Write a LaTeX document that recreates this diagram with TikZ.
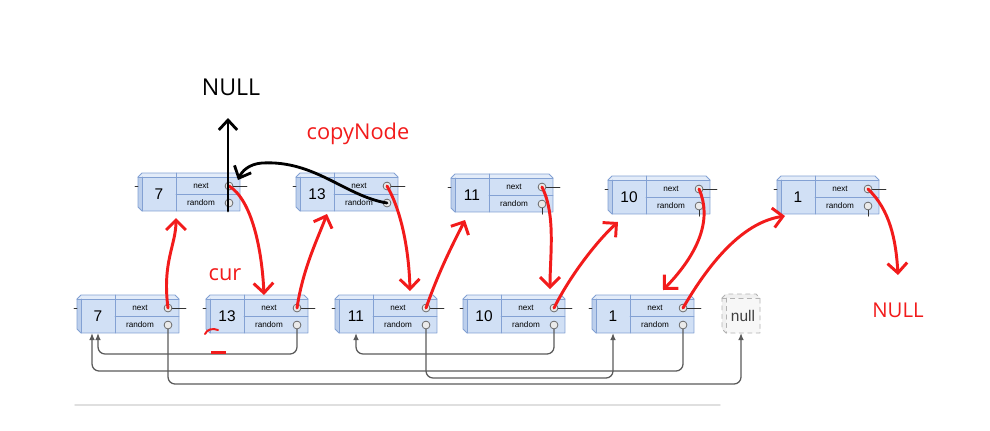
\documentclass[tikz,border=0pt]{standalone}
\usepackage{fontspec}
\setmainfont{Liberation Sans}
\newfontfamily\notefont{Open Sans}
\usetikzlibrary{arrows.meta}

\definecolor{boxfill}{HTML}{D1E0F5}
\definecolor{boxtop}{HTML}{E3ECF9}
\definecolor{boxside}{HTML}{BCCFEC}
\definecolor{boxline}{HTML}{83A1D3}
\definecolor{dotfill}{HTML}{EAEAEA}
\definecolor{randline}{HTML}{5A5A5A}
\definecolor{penred}{HTML}{F21B1B}

\tikzset{
  cell/.style={draw=boxline, line width=0.6pt},
  valtext/.style={font=\fontsize{11}{12}\selectfont, inner sep=0pt},
  fieldtext/.style={font=\fontsize{5.8}{6}\selectfont, inner sep=0pt},
  dot/.style={circle, draw=gray!75!black, fill=dotfill, line width=0.5pt, inner sep=0pt, minimum size=5.6pt},
  stub/.style={draw=black!80, line width=0.5pt},
  randarrow/.style={draw=randline, line width=0.9pt, rounded corners=5pt, -{Latex[length=5pt,width=4pt]}},
  redpen/.style={draw=penred, line width=2.1pt, -{Straight Barb[length=7pt,width=14pt]}},
  blackpen/.style={draw=black, line width=2pt, -{Straight Barb[length=7pt,width=13pt]}},
  redtext/.style={text=penred, font=\notefont\fontsize{15.5}{16}\selectfont}
}

\begin{document}
\begin{tikzpicture}[x=0.025cm, y=-0.025cm, line cap=round, line join=round]
\useasboundingbox (0,0) rectangle (990,430);

% ----------------- List nodes: name / left x / top y / value -----------------
\foreach \nm/\bx/\by/\val in {b7/77/295/7, b13/206/295/13, b11/335/295/11, b10/463/295/10, b1/592/295/1,
    t7/138/173/7, t13/296/173/13, t11/451/174/11, t10/608/176/10, t1/777/176/1}{
  \begin{scope}[shift={(\bx,\by)}]
    \fill[boxside] (0,4) -- (4,4) -- (4,38) -- (0,34) -- cycle;
    \fill[boxtop] (4,0) -- (98,0) -- (102,4) -- (0,4) -- cycle;
    \fill[boxfill] (4,4) rectangle (102,38);
    \draw[cell] (0,4) -- (4,0) -- (98,0) -- (102,4) -- (102,38) -- (4,38) -- (0,34) -- cycle;
    \draw[cell] (0,4) -- (102,4) (4,4) -- (4,38) (38,0) -- (38,38) (38,21) -- (102,21);
    \node[valtext] (\nm) at (21,21) {\val};
    \node[fieldtext] at (63,13) {next};
    \node[fieldtext] at (63,30) {random};
    \draw[stub] (91,13) -- (109,13);
    \draw[stub] (-3,13) -- (0,13);
    \node[dot] (\nm-n) at (91,13) {};
    \node[dot] (\nm-r) at (91,30) {};
    \coordinate (\nm-in) at (21,38);
    \coordinate (\nm-in2) at (15,38);
  \end{scope}
}

% copies keep a short random stub
\foreach \nm in {t11,t10,t1}
  \draw[stub] (\nm-r.south) -- ++(0,6);

% ----------------- null node -----------------
\begin{scope}[shift={(722,294)}]
  \fill[gray!12] (0,4) -- (4,0) -- (34,0) -- (38,4) -- (38,39) -- (4,39) -- (0,35) -- cycle;
  \fill[gray!6] (4,4) rectangle (38,39);
  \draw[gray!60, dashed, line width=0.6pt] (0,4) -- (4,0) -- (34,0) -- (38,4) -- (38,39) -- (4,39) -- (0,35) -- cycle;
  \draw[gray!60, dashed, line width=0.6pt] (0,4) -- (38,4) (4,4) -- (4,39);
  \node[valtext, text=black!75] (null) at (21,22) {null};
  \coordinate (null-in) at (19,39);
\end{scope}

% ----------------- random pointers of the original list -----------------
\draw[randarrow] (b7-r) -- ++(0,59) -| (null-in);
\draw[randarrow] (b13-r) -- ++(0,29) -| (b7-in);
\draw[randarrow] (b11-r) -- ++(0,53) -| (b1-in);
\draw[randarrow] (b10-r) -- ++(0,29) -| (b11-in);
\draw[randarrow] (b1-r) -- ++(0,46) -| (b7-in2);

% bottom edge of the screenshot
\draw[gray!25, line width=1pt] (75,405) -- (720,405);

% ----------------- hand-drawn red arrows (cur -> copy -> cur) -----------------
\coordinate (t7-up)  at (176,218);
\coordinate (b13-dn) at (264,295);
\coordinate (t13-up) at (327,214);
\coordinate (b11-dn) at (410,291);
\coordinate (t11-up) at (465,220);
\coordinate (b10-dn) at (550,289);
\coordinate (t10-up) at (618,222);
\coordinate (b1-dn)  at (663,290);
\coordinate (t1-up)  at (785,216);
\coordinate (end-dn) at (898,275);

\draw[redpen] (b7-n.center) .. controls (162,262) and (176,245) .. (t7-up);
\draw[redpen] (t7-n.center) .. controls (252,200) and (262,250) .. (b13-dn);
\draw[redpen] (b13-n.center) .. controls (303,268) and (318,238) .. (t13-up);
\draw[redpen] (t13-n.center) .. controls (402,212) and (409,252) .. (b11-dn);
\draw[redpen] (b11-n.center) .. controls (440,268) and (455,240) .. (t11-up);
\draw[redpen] (t11-n.center) .. controls (556,215) and (550,255) .. (b10-dn);
\draw[redpen] (b10-n.center) .. controls (572,272) and (600,238) .. (t10-up);
\draw[redpen] (t10-n.center) .. controls (712,218) and (700,252) .. (b1-dn);
\draw[redpen] (b1-n.center) .. controls (712,258) and (745,222) .. (t1-up);
\draw[redpen] (t1-n.center) .. controls (890,210) and (896,240) .. (end-dn);

% stray red marks
\draw[penred, line width=1.4pt] (205,334) .. controls (207,329) and (213,328) .. (218,330);
\fill[penred] (211,351) rectangle (226,354);

% ----------------- labels -----------------
\node[font=\notefont\fontsize{16.5}{17}\selectfont] (nullA) at (231,87) {NULL};
\node[redtext] (copyA) at (358,134) {copyNode};
\node[redtext] (curA) at (225,275) {cur};
\node[redtext, font=\notefont\fontsize{14.5}{15}\selectfont] (nullB) at (898,310) {NULL};

% ----------------- hand-drawn black arrows (copy random) -----------------
\coordinate (nullA-tip) at (228,118);
\draw[blackpen] (t7-in -| nullA-tip) -- (nullA-tip);
\draw[blackpen] (t13-r.center) .. controls (345,196) and (315,160) .. (262,163)
  .. controls (249,164) and (242,171) .. (238,180);

\end{tikzpicture}
\end{document}
